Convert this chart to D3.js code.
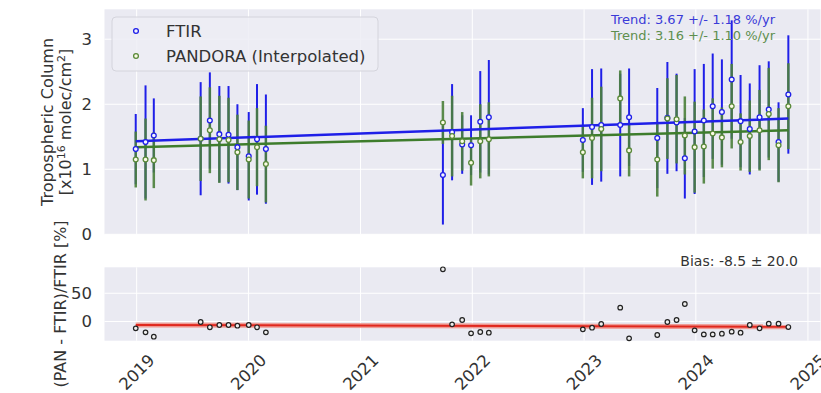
<!DOCTYPE html>
<html><head><meta charset="utf-8">
<script src="https://cdn.jsdelivr.net/npm/d3@7"></script>
<style>
body{margin:0;background:#fff;}
svg{display:block;font-family:'DejaVu Sans',sans-serif;}
</style>
</head><body><svg id="c" width="821" height="393"></svg>
<script>
// ---- data ----
const dates = ["2018-12-29","2019-01-30","2019-02-26","2019-07-29","2019-08-28","2019-09-28","2019-10-28","2019-11-26","2020-01-02","2020-01-29","2020-02-27",
  "2021-09-27","2021-10-27","2021-11-29","2021-12-28","2022-01-27","2022-02-24",
  "2022-12-28","2023-01-27","2023-02-26","2023-04-29","2023-05-28","2023-08-28","2023-09-30","2023-10-30","2023-11-26","2023-12-28",
  "2024-01-27","2024-02-25","2024-03-26","2024-04-27","2024-05-26","2024-06-25","2024-07-27","2024-08-26","2024-09-27","2024-10-29"];
const ftir     = [1.31,1.42,1.52,1.47,1.75,1.54,1.53,1.34,1.20,1.46,1.31, 0.91,1.57,1.38,1.37,1.73,1.80, 1.45,1.65,1.68,1.68,1.80,1.48,1.79,1.72,1.17,1.58, 1.75,1.97,1.88,2.38,1.74,1.62,1.80,1.92,1.42,2.15];
const ftirErr  = [0.54,0.87,0.57,0.87,0.74,0.74,0.75,0.66,0.68,0.85,0.84, 0.76,0.74,0.45,0.46,0.78,0.88, 0.49,0.89,0.87,0.79,0.75,0.77,0.86,0.75,0.62,0.96, 0.87,0.81,0.81,0.91,0.71,0.70,0.80,0.74,0.61,0.91];
const pandora  = [1.15,1.15,1.14,1.47,1.60,1.46,1.45,1.26,1.15,1.34,1.08, 1.72,1.51,1.43,1.10,1.43,1.46, 1.26,1.48,1.62,2.09,1.29,1.15,1.78,1.77,1.52,1.34, 1.35,1.55,1.49,1.97,1.42,1.51,1.60,1.85,1.37,1.97];
const pandoraErr=[0.43,0.63,0.43,0.65,0.66,0.67,0.65,0.58,0.60,0.60,0.59, 0.33,0.62,0.45,0.35,0.57,0.57, 0.40,0.62,0.65,0.43,0.40,0.57,0.62,0.68,0.60,0.70, 0.57,0.54,0.46,0.65,0.44,0.55,0.62,0.71,0.57,0.66];
const bias     = [-12.1,-19.2,-26.9,-0.9,-10.3,-6.2,-6.2,-7.4,-6.2,-10.3,-19.2, 92.5,-5.0,2.7,-21.0,-18.6,-19.8, -13.9,-11.0,-4.4,24.5,-29.8,-23.9,-0.9,2.7,31.0,-15.7, -22.8,-22.8,-21.6,-18.0,-19.8,-6.2,-12.1,-3.8,-3.8,-9.8];
const ftirTrend = [1.43, 1.78];
const pandoraTrend = [1.34, 1.60];
const biasTrend = [-6.2, -9.4];
const yearTicks = [2019,2020,2021,2022,2023,2024,2025];
const topTicks = [0,1,2,3];
const botTicks = [0,50];
const legendLabels = ["FTIR","PANDORA (Interpolated)"];
const trendLabels = ["Trend: 3.67 +/- 1.18 %/yr","Trend: 3.16 +/- 1.10 %/yr"];
const biasLabel = "Bias: -8.5 \u00b1 20.0";

// ---- setup ----
const parse = d3.timeParse("%Y-%m-%d");
const D = dates.map(parse);
const svg = d3.select("#c");
const L = 104.5, R = 820.5;
const x = d3.scaleTime().domain([parse("2018-09-18"), parse("2025-02-11")]).range([L, R]);
const yT = d3.scaleLinear().domain([0, 3.46]).range([234.3, 9.3]);
const yB = d3.scaleLinear().domain([-34, 96]).range([340.7, 267.3]);
const BG = "#eaeaf2", TXT = "#333333";
const BLUE = "#1f1fe8", GREEN = "#4a803a";
const yearDates = yearTicks.map(y => new Date(y, 0, 1));

function panel(y, ticks) {
  const g = svg.append("g");
  g.append("rect").attr("x", L).attr("y", y.range()[1]).attr("width", R - L)
    .attr("height", y.range()[0] - y.range()[1]).attr("fill", BG);
  g.selectAll(".vg").data(yearDates).join("line")
    .attr("x1", d => x(d)).attr("x2", d => x(d))
    .attr("y1", y.range()[1]).attr("y2", y.range()[0])
    .attr("stroke", "#fff").attr("stroke-width", 1);
  g.selectAll(".hg").data(ticks).join("line")
    .attr("x1", L).attr("x2", R).attr("y1", d => y(d)).attr("y2", d => y(d))
    .attr("stroke", "#fff").attr("stroke-width", 1);
  g.selectAll(".tl").data(ticks).join("text")
    .attr("x", 92).attr("y", d => y(d)).attr("dy", "0.36em")
    .attr("text-anchor", "end").attr("font-size", 16.5).attr("fill", TXT)
    .text(d => d);
  return g;
}
panel(yT, topTicks);
panel(yB, botTicks);

// ---- top panel ----
const gTop = svg.append("g");
const idx = d3.range(D.length);
gTop.selectAll(".eb").data(idx).join("line")
  .attr("x1", i => x(D[i])).attr("x2", i => x(D[i]))
  .attr("y1", i => yT(ftir[i] - ftirErr[i])).attr("y2", i => yT(ftir[i] + ftirErr[i]))
  .attr("stroke", BLUE).attr("stroke-width", 2);
gTop.selectAll(".eg").data(idx).join("line")
  .attr("x1", i => x(D[i])).attr("x2", i => x(D[i]))
  .attr("y1", i => yT(pandora[i] - pandoraErr[i])).attr("y2", i => yT(pandora[i] + pandoraErr[i]))
  .attr("stroke", GREEN).attr("stroke-width", 2.5).attr("stroke-opacity", 0.9);
// trend lines
gTop.append("line").attr("x1", x(D[0])).attr("x2", x(D[D.length-1]))
  .attr("y1", yT(ftirTrend[0])).attr("y2", yT(ftirTrend[1]))
  .attr("stroke", BLUE).attr("stroke-width", 2.5);
gTop.append("line").attr("x1", x(D[0])).attr("x2", x(D[D.length-1]))
  .attr("y1", yT(pandoraTrend[0])).attr("y2", yT(pandoraTrend[1]))
  .attr("stroke", "#3e7d2c").attr("stroke-width", 2.5);
gTop.selectAll(".mb").data(idx).join("circle")
  .attr("cx", i => x(D[i])).attr("cy", i => yT(ftir[i])).attr("r", 2.4)
  .attr("fill", "#f4f4ff").attr("stroke", BLUE).attr("stroke-width", 1.3);
gTop.selectAll(".mg").data(idx).join("circle")
  .attr("cx", i => x(D[i])).attr("cy", i => yT(pandora[i])).attr("r", 2.4)
  .attr("fill", "#fbfbe6").attr("stroke", "#5a8a3a").attr("stroke-width", 1.3);

// trend texts
svg.append("text").attr("x", 775).attr("y", 19).attr("dy", "0.36em").attr("text-anchor", "end")
  .attr("font-size", 13).attr("fill", "#3a3ad8").text(trendLabels[0]);
svg.append("text").attr("x", 775).attr("y", 35).attr("dy", "0.36em").attr("text-anchor", "end")
  .attr("font-size", 13).attr("fill", "#5e8f4e").text(trendLabels[1]);

// legend
const lg = svg.append("g");
lg.append("rect").attr("x", 112).attr("y", 17).attr("width", 266).attr("height", 54).attr("rx", 4)
  .attr("fill", "#ededf4").attr("fill-opacity", 0.85).attr("stroke", "#d4d4dc").attr("stroke-width", 1);
const legCols = [[BLUE, "#f4f4ff"], ["#5a8a3a", "#fbfbe6"]];
legendLabels.forEach((t, i) => {
  const yy = 31 + i * 25;
  lg.append("circle").attr("cx", 136).attr("cy", yy).attr("r", 2.4)
    .attr("fill", legCols[i][1]).attr("stroke", legCols[i][0]).attr("stroke-width", 1.3);
  lg.append("text").attr("x", 166).attr("y", yy).attr("dy", "0.36em")
    .attr("font-size", 16.5).attr("fill", TXT).text(t);
});

// ---- bottom panel ----
const gBot = svg.append("g");
gBot.append("line").attr("x1", x(D[0])).attr("x2", x(D[D.length-1]))
  .attr("y1", yB(biasTrend[0])).attr("y2", yB(biasTrend[1]))
  .attr("stroke", "#f08a80").attr("stroke-width", 5).attr("stroke-opacity", 0.8);
gBot.append("line").attr("x1", x(D[0])).attr("x2", x(D[D.length-1]))
  .attr("y1", yB(biasTrend[0])).attr("y2", yB(biasTrend[1]))
  .attr("stroke", "#e0281e").attr("stroke-width", 2);
gBot.selectAll(".bp").data(idx).join("circle")
  .attr("cx", i => x(D[i])).attr("cy", i => yB(bias[i])).attr("r", 2.3)
  .attr("fill", "#eeeeee").attr("stroke", "#222").attr("stroke-width", 1.2);
svg.append("text").attr("x", 798).attr("y", 261).attr("dy", "0.36em").attr("text-anchor", "end")
  .attr("font-size", 14).attr("fill", TXT).text(biasLabel);

// x tick labels (rotated)
svg.selectAll(".xl").data(yearTicks).join("text")
  .attr("transform", d => `translate(${x(new Date(d,0,1))},372) rotate(-45)`)
  .attr("text-anchor", "middle").attr("dy", "0.36em")
  .attr("font-size", 16.5).attr("fill", TXT).text(d => d);

// y labels
svg.append("text").attr("transform", "translate(53,122) rotate(-90)")
  .attr("text-anchor", "middle").attr("font-size", 16).attr("fill", TXT).text("Tropospheric Column");
const yl2 = svg.append("text").attr("transform", "translate(71,122) rotate(-90)")
  .attr("text-anchor", "middle").attr("font-size", 16).attr("fill", TXT);
yl2.append("tspan").text("[x10");
yl2.append("tspan").attr("baseline-shift", "super").attr("font-size", 11).text("16");
yl2.append("tspan").text(" molec/cm");
yl2.append("tspan").attr("baseline-shift", "super").attr("font-size", 11).text("2");
yl2.append("tspan").text("]");
svg.append("text").attr("transform", "translate(66,304) rotate(-90)")
  .attr("text-anchor", "middle").attr("font-size", 16).attr("fill", TXT).text("(PAN - FTIR)/FTIR [%]");
</script>
</body></html>
